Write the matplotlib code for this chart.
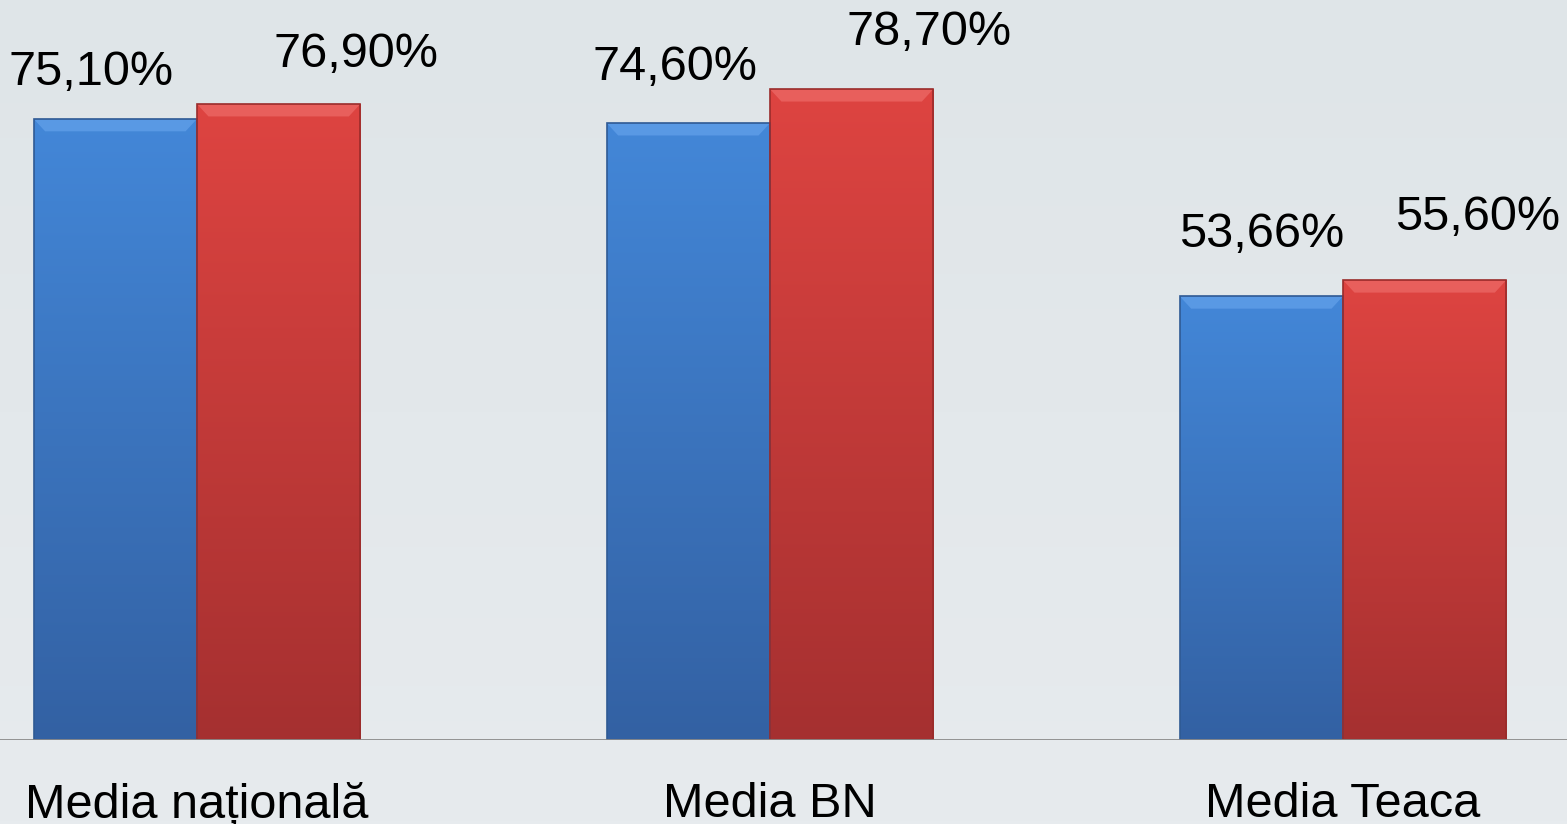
import numpy as np
import matplotlib.pyplot as plt
from matplotlib.colors import LinearSegmentedColormap

plt.rcParams['font.family'] = ['Liberation Sans', 'DejaVu Sans']

categories = ['Media națională', 'Media BN', 'Media Teaca']
serie1 = [75.10, 74.60, 53.66]
serie2 = [76.90, 78.70, 55.60]
labels1 = ['75,10%', '74,60%', '53,66%']
labels2 = ['76,90%', '78,70%', '55,60%']

# label offsets in pixels (dx, dy) from bar top centre
off1 = [(-24, 34), (-13, 43), (0, 49)]
off2 = [(77, 37), (77, 44), (53, 50)]

W, H = 1567, 824
fig = plt.figure(figsize=(W / 100, H / 100), dpi=100)
fig.patch.set_facecolor('#e3e8eb')

# background gradient
bg = fig.add_axes([0, 0, 1, 1])
bg.axis('off')
grad = np.linspace(0, 1, 256).reshape(-1, 1)
bg.imshow(grad, aspect='auto', extent=[0, 1, 0, 1],
          cmap=LinearSegmentedColormap.from_list('bg', ['#dfe5e8', '#e7ebee']))

ax = fig.add_axes([0, 84 / H, 1, 740 / H])
ax.patch.set_alpha(0)

bw = 0.285
x = np.arange(len(categories))
ax.set_xlim(-197 / 573, (W - 197) / 573)
ax.set_ylim(0, 740 / 8.27)

blue_cm = LinearSegmentedColormap.from_list('b', ['#3361a3', '#4387d8'])
red_cm = LinearSegmentedColormap.from_list('r', ['#a53030', '#de4441'])
vgrad = np.linspace(0, 1, 256).reshape(-1, 1)


def draw_bars(xs, vals, cmap, edge, light):
    bars = ax.bar(xs, vals, bw, color='none', edgecolor=edge, linewidth=1.2, zorder=3)
    for b in bars:
        x0, w, h = b.get_x(), b.get_width(), b.get_height()
        im = ax.imshow(vgrad, aspect='auto', extent=[x0, x0 + w, 0, h],
                       cmap=cmap, origin='lower', zorder=2)
        im.set_clip_path(b)
        # bevel on top
        ax.fill([x0, x0 + w, x0 + w - 0.02, x0 + 0.02],
                [h, h, h - 1.5, h - 1.5], color=light, alpha=0.6, zorder=2.5, lw=0)
    return bars


draw_bars(x - bw / 2, serie1, blue_cm, '#2f5a94', '#6aa6ee')
draw_bars(x + bw / 2, serie2, red_cm, '#9a2c2b', '#f07270')

for i in range(len(categories)):
    ax.annotate(labels1[i], (x[i] - bw / 2, serie1[i]), xytext=off1[i],
                textcoords='offset pixels', ha='center', va='baseline', fontsize=35)
    ax.annotate(labels2[i], (x[i] + bw / 2, serie2[i]), xytext=off2[i],
                textcoords='offset pixels', ha='center', va='baseline', fontsize=35)

ax.axhline(0, color='#8a8a8a', lw=2, zorder=4)
for s in ax.spines.values():
    s.set_visible(False)
ax.set_yticks([])
ax.set_xticks(x)
ax.set_xticklabels(categories, fontsize=35)
ax.tick_params(axis='x', length=0, pad=30)

fig.savefig('out.png', dpi=100)
